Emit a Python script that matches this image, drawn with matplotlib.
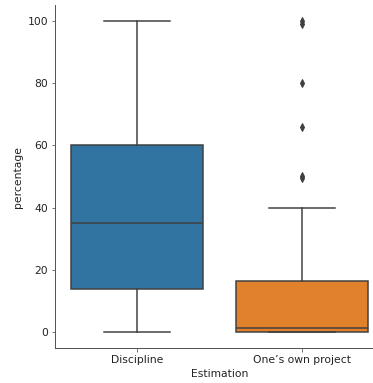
import matplotlib
matplotlib.use("Agg")
import matplotlib.pyplot as plt

# box statistics per estimation type (percent)
categories = ["Discipline", "One\u2019s own project"]
q1 = [14, 0]
medians = [35, 1.3]
q3 = [60, 16.5]
whisker_low = [0, 0]
whisker_high = [100, 40]
outliers = [[], [100, 99, 80, 66, 50, 49.5]]

box_colors = ["#3274a1", "#e1812c"]
line_gray = "#3f3f3f"

stats = []
for i, name in enumerate(categories):
    stats.append({"label": name, "q1": q1[i], "med": medians[i], "q3": q3[i],
                  "whislo": whisker_low[i], "whishi": whisker_high[i],
                  "fliers": outliers[i]})

fig = plt.figure(figsize=(373 / 72, 383 / 72), dpi=72)
# axes runs a little past the right edge of the canvas
ax = fig.add_axes([55 / 373, 35 / 383, 329 / 373, 343 / 383])

bp = ax.bxp(stats, positions=range(len(categories)), widths=0.8,
            patch_artist=True, showfliers=True,
            boxprops=dict(edgecolor=line_gray, linewidth=1.5),
            medianprops=dict(color=line_gray, linewidth=1.5),
            whiskerprops=dict(color=line_gray, linewidth=1.5),
            capprops=dict(color=line_gray, linewidth=1.5),
            flierprops=dict(marker="d", markersize=5, markerfacecolor=line_gray,
                            markeredgecolor=line_gray, linestyle="none"))
for patch, c in zip(bp["boxes"], box_colors):
    patch.set_facecolor(c)

ax.set_xlim(-0.5, 1.5)
ax.set_ylim(-5, 105)
ax.set_yticks([0, 20, 40, 60, 80, 100])
ax.set_xticks(range(len(categories)))
ax.set_xticklabels(categories)
ax.set_xlabel("Estimation", fontsize=10.7, color="#222222")
ax.set_ylabel("percentage", fontsize=10.7, color="#222222")
ax.tick_params(labelsize=10.7, color="#555555", labelcolor="#222222")
for s in ["top", "right"]:
    ax.spines[s].set_visible(False)
for s in ["left", "bottom"]:
    ax.spines[s].set_color("#555555")
    ax.spines[s].set_linewidth(1.0)

fig.savefig("out.png", dpi=72)
